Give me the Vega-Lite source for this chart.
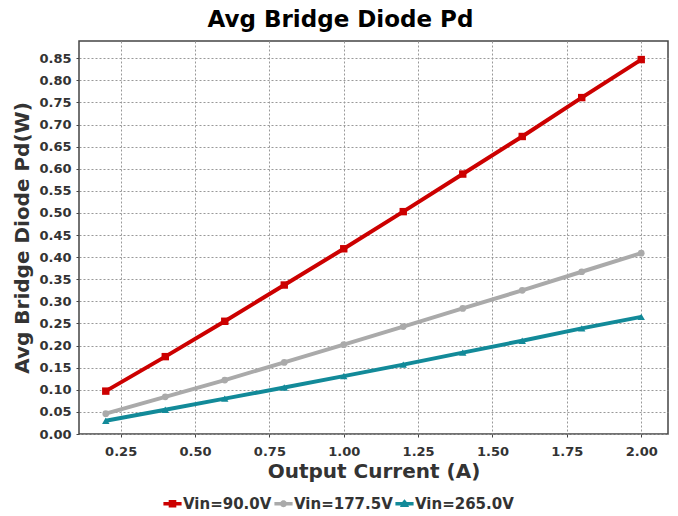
{
  "$schema": "https://vega.github.io/schema/vega-lite/v6.json",
  "width": 589,
  "height": 393,
  "padding": {"left": 12, "top": 9, "right": 8, "bottom": 4},
  "background": "white",
  "title": {"text": "Avg Bridge Diode Pd", "fontSize": 23, "font": "DejaVu Sans", "fontWeight": "bold", "color": "#000000", "frame": "bounds", "anchor": "middle", "offset": 9},
  "config": {
    "font": "DejaVu Sans",
    "view": {"stroke": "#444444", "strokeWidth": 1.5},
    "axis": {
      "labelFont": "DejaVu Sans", "labelFontWeight": "bold", "labelFontSize": 13, "labelColor": "#333333",
      "titleFont": "DejaVu Sans", "titleFontWeight": "bold", "titleFontSize": 20, "titleColor": "#333333",
      "grid": true, "gridColor": "#999999", "gridDash": [2, 2], "gridWidth": 1,
      "domain": false, "tickColor": "#444444", "tickSize": 3
    },
    "legend": {"labelFont": "DejaVu Sans", "labelFontWeight": "bold", "labelFontSize": 15, "labelColor": "#333333"}
  },
  "data": {"values": [
    {"I": 0.2, "P": 0.097, "V": "Vin=90.0V"},
    {"I": 0.4, "P": 0.175, "V": "Vin=90.0V"},
    {"I": 0.6, "P": 0.255, "V": "Vin=90.0V"},
    {"I": 0.8, "P": 0.337, "V": "Vin=90.0V"},
    {"I": 1.0, "P": 0.419, "V": "Vin=90.0V"},
    {"I": 1.2, "P": 0.503, "V": "Vin=90.0V"},
    {"I": 1.4, "P": 0.588, "V": "Vin=90.0V"},
    {"I": 1.6, "P": 0.673, "V": "Vin=90.0V"},
    {"I": 1.8, "P": 0.761, "V": "Vin=90.0V"},
    {"I": 2.0, "P": 0.847, "V": "Vin=90.0V"},
    {"I": 0.2, "P": 0.046, "V": "Vin=177.5V"},
    {"I": 0.4, "P": 0.084, "V": "Vin=177.5V"},
    {"I": 0.6, "P": 0.122, "V": "Vin=177.5V"},
    {"I": 0.8, "P": 0.162, "V": "Vin=177.5V"},
    {"I": 1.0, "P": 0.202, "V": "Vin=177.5V"},
    {"I": 1.2, "P": 0.243, "V": "Vin=177.5V"},
    {"I": 1.4, "P": 0.284, "V": "Vin=177.5V"},
    {"I": 1.6, "P": 0.325, "V": "Vin=177.5V"},
    {"I": 1.8, "P": 0.367, "V": "Vin=177.5V"},
    {"I": 2.0, "P": 0.409, "V": "Vin=177.5V"},
    {"I": 0.2, "P": 0.030, "V": "Vin=265.0V"},
    {"I": 0.4, "P": 0.055, "V": "Vin=265.0V"},
    {"I": 0.6, "P": 0.080, "V": "Vin=265.0V"},
    {"I": 0.8, "P": 0.105, "V": "Vin=265.0V"},
    {"I": 1.0, "P": 0.131, "V": "Vin=265.0V"},
    {"I": 1.2, "P": 0.157, "V": "Vin=265.0V"},
    {"I": 1.4, "P": 0.184, "V": "Vin=265.0V"},
    {"I": 1.6, "P": 0.211, "V": "Vin=265.0V"},
    {"I": 1.8, "P": 0.239, "V": "Vin=265.0V"},
    {"I": 2.0, "P": 0.265, "V": "Vin=265.0V"}
  ]},
  "encoding": {
    "x": {"field": "I", "type": "quantitative", "title": "Output Current (A)",
          "scale": {"domain": [0.11, 2.09], "nice": false, "zero": false},
          "axis": {"values": [0.25, 0.5, 0.75, 1.0, 1.25, 1.5, 1.75, 2.0], "format": ".2f", "titlePadding": 3, "labelPadding": 8}},
    "y": {"field": "P", "type": "quantitative", "title": "Avg Bridge Diode Pd(W)",
          "scale": {"domain": [0, 0.889], "nice": false},
          "axis": {"values": [0, 0.05, 0.1, 0.15, 0.2, 0.25, 0.3, 0.35, 0.4, 0.45, 0.5, 0.55, 0.6, 0.65, 0.7, 0.75, 0.8, 0.85], "format": ".2f", "titlePadding": 6, "labelPadding": 5}},
    "color": {"field": "V", "type": "nominal",
              "scale": {"domain": ["Vin=90.0V", "Vin=177.5V", "Vin=265.0V"], "range": ["#cc0000", "#aaaaaa", "#128a99"]},
              "legend": {"title": null, "orient": "none", "legendX": 84, "legendY": 453, "direction": "horizontal", "symbolSize": 330, "symbolOpacity": 1, "symbolStrokeWidth": 0, "columnPadding": 2, "labelOffset": 1}}
  },
  "layer": [
    {"mark": {"type": "line", "strokeWidth": 4}},
    {"transform": [{"filter": "datum.V == 'Vin=90.0V'"}],
     "mark": {"type": "square", "opacity": 1, "size": 55}},
    {"transform": [{"filter": "datum.V == 'Vin=177.5V'"}],
     "mark": {"type": "circle", "opacity": 1, "size": 45}},
    {"transform": [{"filter": "datum.V == 'Vin=265.0V'"}],
     "mark": {"type": "point", "shape": "triangle-up", "filled": true, "opacity": 1, "size": 55}},
    {"mark": {"type": "point", "filled": true, "opacity": 0, "size": 10},
     "encoding": {
       "shape": {"field": "V", "type": "nominal",
                 "scale": {"domain": ["Vin=90.0V", "Vin=177.5V", "Vin=265.0V"],
                           "range": ["M-1,-0.2H-0.42V-0.42H0.42V-0.2H1V0.2H0.42V0.42H-0.42V0.2H-1Z",
                                     "M-1,-0.2H-0.33A0.4,0.4 0 0 1 0.33,-0.2H1V0.2H0.33A0.4,0.4 0 0 1 -0.33,0.2H-1Z",
                                     "M-1,-0.2H-0.25L0,-0.5L0.25,-0.2H1V0.2H0.42L0.5,0.35H-0.5L-0.42,0.2H-1Z"]},
                 "legend": {"title": null, "orient": "none", "legendX": 84, "legendY": 453, "direction": "horizontal", "symbolSize": 330, "symbolOpacity": 1, "symbolStrokeWidth": 0, "columnPadding": 2, "labelOffset": 1}}
     }}
  ]
}
